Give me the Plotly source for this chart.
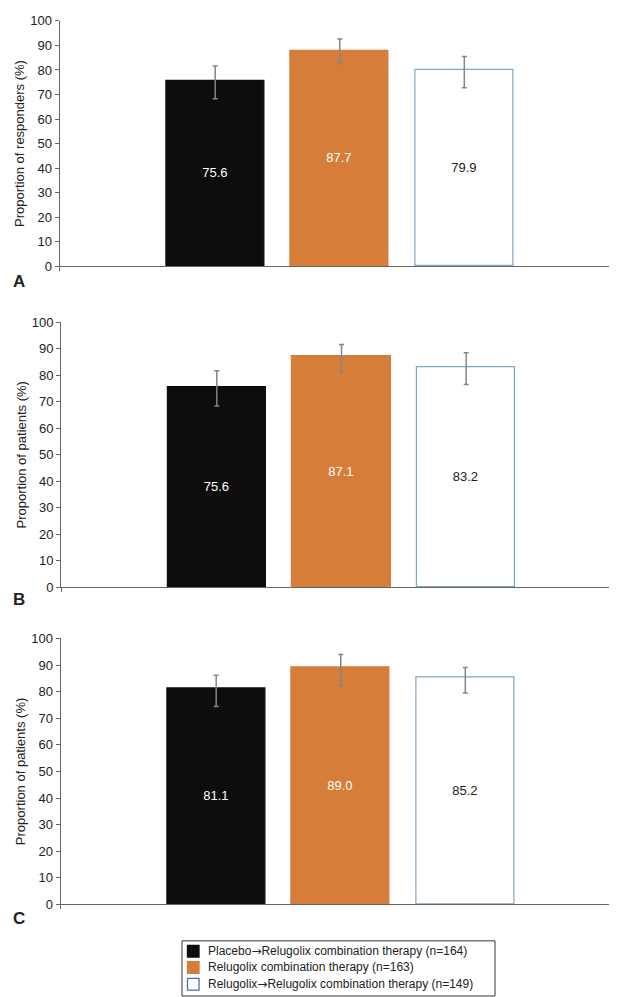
import plotly.graph_objects as go

groups = ["Placebo→Relugolix combination therapy (n=164)",
          "Relugolix combination therapy (n=163)",
          "Relugolix→Relugolix combination therapy (n=149)"]
panels = ["A", "B", "C"]
ytitles = ["Proportion of responders (%)", "Proportion of patients (%)", "Proportion of patients (%)"]

values_A = [75.6, 87.7, 79.9]
lower_A = [68.3, 82.6, 72.7]
upper_A = [81.6, 92.6, 85.5]

values_B = [75.6, 87.1, 83.2]
lower_B = [68.4, 81.2, 76.5]
upper_B = [81.7, 91.6, 88.5]

values_C = [81.1, 89.0, 85.2]
lower_C = [74.4, 82.2, 79.5]
upper_C = [86.2, 94.0, 89.1]

yticks = [0, 10, 20, 30, 40, 50, 60, 70, 80, 90, 100]

fills = ["#0d0d0d", "#d67d3a", "#ffffff"]
lines = ["#0d0d0d", "#d67d3a", "#7fa6c2"]
legend_lines = ["#0d0d0d", "#d67d3a", "#4a6fbd"]
textcolors = ["#ffffff", "#ffffff", "#222222"]

FONT = "Liberation Sans, Arial, Helvetica"
W, H = 617, 997
px_domains = [(6, 255), (312, 581), (633, 903)]
x_px = [(51.5, 612), (53, 614), (52.5, 613)]

fig = go.Figure()
data = [(values_A, lower_A, upper_A), (values_B, lower_B, upper_B), (values_C, lower_C, upper_C)]

for p, (vals, lo, up) in enumerate(data):
    xa = "x" if p == 0 else f"x{p+1}"
    ya = "y" if p == 0 else f"y{p+1}"
    for g in range(3):
        fig.add_trace(go.Bar(
            x=[g], y=[vals[g]],
            width=0.79,
            marker=dict(color=fills[g], line=dict(color=lines[g], width=1.2)),
            text=[f"{vals[g]:.1f}"], textposition="inside", insidetextanchor="middle",
            textfont=dict(color=textcolors[g], size=13, family=FONT),
            error_y=dict(type="data", symmetric=False,
                         array=[up[g] - vals[g]], arrayminus=[vals[g] - lo[g]],
                         color="#858585", thickness=1.5, width=2.5),
            name=groups[g], showlegend=False,
            xaxis=xa, yaxis=ya,
        ))

axis_font = dict(family=FONT, size=13, color="#222222")
layout = dict(
    width=W, height=H, margin=dict(l=0, r=0, t=0, b=0),
    paper_bgcolor="white", plot_bgcolor="white",
    showlegend=False, bargap=0,
    font=dict(family=FONT, color="#222222"),
)

for p in range(3):
    top, bot = px_domains[p]
    xl, xr = x_px[p]
    xk = "xaxis" if p == 0 else f"xaxis{p+1}"
    yk = "yaxis" if p == 0 else f"yaxis{p+1}"
    xa = "x" if p == 0 else f"x{p+1}"
    ya = "y" if p == 0 else f"y{p+1}"
    layout[xk] = dict(domain=[xl / W, xr / W], range=[-1.25, 3.25], anchor=ya,
                      showline=True, linecolor="#666666", linewidth=1,
                      tickvals=[-1.25, 3.25], ticktext=["", ""], ticks="outside",
                      ticklen=4, tickcolor="#666666", showgrid=False, zeroline=False)
    layout[yk] = dict(domain=[1 - bot / H, 1 - top / H], range=[0, 100], anchor=xa,
                      showline=True, linecolor="#666666", linewidth=1,
                      tickvals=yticks, ticks="outside", ticklen=4, tickcolor="#666666",
                      tickfont=axis_font, showgrid=False, zeroline=False,
                      title=dict(text=ytitles[p], font=dict(family=FONT, size=13, color="#222222"), standoff=2))

fig.update_layout(**layout)

label_y = [271, 593, 917]
for p in range(3):
    fig.add_annotation(text=f"<b>{panels[p]}</b>", x=3 / W, y=1 - label_y[p] / H,
                       xref="paper", yref="paper", xanchor="left", yanchor="middle",
                       showarrow=False, font=dict(family=FONT, size=17, color="#222222"))

# manual legend
box_l, box_r, box_t, box_b = 174, 487, 940, 996
fig.add_shape(type="rect", xref="paper", yref="paper",
              x0=box_l / W, x1=box_r / W, y0=1 - box_b / H, y1=1 - box_t / H,
              line=dict(color="#333333", width=1), fillcolor="white", layer="below")
row_y = [950.5, 967, 984]
for g in range(3):
    cy = row_y[g]
    fig.add_shape(type="rect", xref="paper", yref="paper",
                  x0=179.5 / W, x1=191 / W, y0=1 - (cy + 6) / H, y1=1 - (cy - 6) / H,
                  line=dict(color=legend_lines[g], width=1.3), fillcolor=fills[g])
    label = groups[g].replace("→", "<span style='font-family:DejaVu Sans'>→</span>")
    fig.add_annotation(text=label, x=198 / W, y=1 - cy / H, xref="paper", yref="paper",
                       xanchor="left", yanchor="middle", showarrow=False,
                       font=dict(family=FONT, size=12, color="#222222"))

fig.write_html("out.html")
